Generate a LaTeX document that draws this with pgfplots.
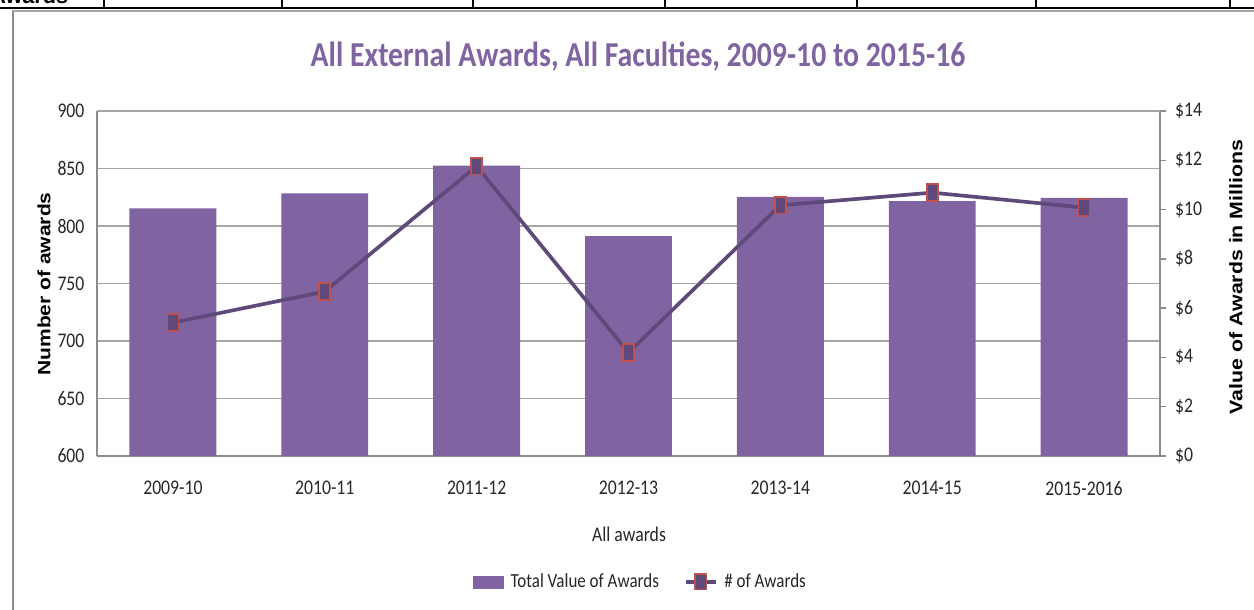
\documentclass[border=0pt]{standalone}
\usepackage{pgfplots}
\pgfplotsset{compat=1.18}
\usepackage{fontspec}
\setmainfont{Carlito}[FakeStretch=0.85]
\newfontfamily\labfont{Liberation Sans}
\definecolor{barc}{HTML}{8064A2}
\definecolor{linec}{HTML}{5F497A}
\definecolor{mkr}{HTML}{C0504D}
\definecolor{gridc}{HTML}{A6A6A6}
\definecolor{axc}{HTML}{8C8C8C}
\definecolor{txt}{HTML}{262626}
\begin{document}
\begin{tikzpicture}
\path[use as bounding box] (0,0) rectangle (752.4pt,366pt);
% frame / table fragment
\draw[axc, line width=0.8pt] (7.8pt,0) -- (7.8pt,359.7pt);
\draw[gridc, line width=1.6pt] (7.8pt,359.4pt) -- (752.4pt,359.4pt);
\draw[black, line width=1.2pt] (0pt,361.3pt) -- (752.4pt,361.3pt);
\foreach \xx in {62.4,169.2,283.8,399,514.2,621.6,738}{\draw[black, line width=0.7pt] (\xx pt,361.3pt) -- (\xx pt,366pt);}
\node[anchor=base west, inner sep=0pt, font=\labfont\bfseries\fontsize{13}{13}\selectfont] at (-6pt,363.6pt) {Awards};
% base axis (left scale)
\begin{axis}[
  at={(58.2pt,92.4pt)}, anchor=south west, scale only axis,
  width=637.8pt, height=207pt,
  xmin=-0.5, xmax=6.5, ymin=600, ymax=900,
  ytick={600,650,...,900},
  xtick={0,...,6},
  xticklabels={2009-10,2010-11,2011-12,2012-13,2013-14,2014-15,2015-2016},
  ymajorgrids, grid style={gridc, line width=0.8pt},
  axis y line*=left, axis x line*=bottom,
  axis line style={axc, line width=0.8pt},
  major tick length=0pt,
  /pgf/number format/assume math mode=true,
  tick label style={font=\fontsize{12.5}{13}\selectfont, text=txt},
  xticklabel style={yshift=-11.5pt},
  yticklabel style={xshift=-4pt},
]
\addplot[draw=none] coordinates {(0,600)};
\draw[axc, line width=0.8pt] (rel axis cs:0,0) -- ++(0pt,-55.2pt);
\draw[axc, line width=0.8pt] (rel axis cs:1,0) -- ++(0pt,-55.2pt);
\end{axis}
% right scale, bars
\begin{axis}[
  at={(58.2pt,92.4pt)}, anchor=south west, scale only axis,
  width=637.8pt, height=207pt,
  xmin=-0.5, xmax=6.5, ymin=0, ymax=14,
  axis y line*=right, axis x line=none,
  axis line style={axc, line width=0.8pt},
  ytick={0,2,...,14},
  /pgf/number format/assume math mode=true,
  yticklabel={\$\pgfmathprintnumber{\tick}},
  tick align=outside, major tick length=3.6pt,
  tick style={axc, line width=0.8pt},
  yticklabel style={font=\fontsize{12.5}{13}\selectfont, text=txt, xshift=2pt},
]
\addplot[ybar, bar width=0.572, fill=barc, draw=none] coordinates {
(0,10.05) (1,10.66) (2,11.78) (3,8.92) (4,10.51) (5,10.34) (6,10.47)};
\end{axis}
% line (left scale)
\begin{axis}[
  at={(58.2pt,92.4pt)}, anchor=south west, scale only axis,
  width=637.8pt, height=207pt,
  xmin=-0.5, xmax=6.5, ymin=600, ymax=900,
  hide axis, clip=false,
  legend style={at={(0.512,-0.365)}, anchor=center, draw=none, fill=none,
    font=\fontsize{12}{12}\selectfont, text=txt, legend columns=2,
    /tikz/every odd column/.append style={column sep=2pt},
    /tikz/every even column/.append style={column sep=13pt}},
]
\addlegendimage{legend image code/.code={\fill[barc] (0pt,-3.6pt) rectangle (18pt,3.6pt);}}
\addlegendentry{Total Value of Awards}
\addplot[linec, line width=2.2pt, mark=square*, mark size=5pt,
  mark options={xscale=0.66, fill=linec, draw=mkr, line width=1pt},
  legend image code/.code={\draw[linec, line width=2.2pt] (0pt,0pt) -- (18pt,0pt);
    \draw[fill=linec, draw=mkr, line width=1pt] (5.6pt,-4.6pt) rectangle (12.4pt,4.6pt);}]
coordinates {(0,716) (1,743) (2,852) (3,690) (4,818) (5,829) (6,816)};
\addlegendentry{\# of Awards}
\end{axis}
% titles
\node[font=\bfseries\fontsize{21}{21}\selectfont, text=barc] at (382.8pt,331.8pt) {All External Awards, All Faculties, 2009-10 to 2015-16};
\node[font=\fontsize{12.5}{13}\selectfont, text=txt] at (377.4pt,45.6pt) {All awards};
\node[rotate=90, font=\labfont\bfseries\fontsize{12.6}{12}\selectfont] at (26.4pt,195.6pt) {\scalebox{1}[0.85]{Number of awards}};
\node[rotate=90, font=\labfont\bfseries\fontsize{12.8}{12}\selectfont] at (741.6pt,199.8pt) {\scalebox{1}[0.85]{Value of Awards in Millions}};
\end{tikzpicture}
\end{document}
